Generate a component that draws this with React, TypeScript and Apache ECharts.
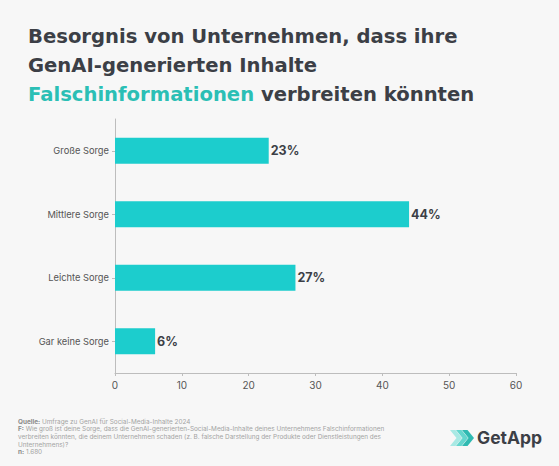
import React, { useEffect, useRef } from "react";
import * as echarts from "echarts";

const categories = ["Große Sorge", "Mittlere Sorge", "Leichte Sorge", "Gar keine Sorge"];
const values = [23, 44, 27, 6];
const xTicks = { min: 0, max: 60, interval: 10 };
const titleLines = [
  "Besorgnis von Unternehmen, dass ihre",
  "GenAI-generierten Inhalte",
];
const titleHighlight = "Falschinformationen";
const titleRest = " verbreiten könnten";
const footerLines = [
  { b: "Quelle:", t: " Umfrage zu GenAI für Social-Media-Inhalte 2024" },
  { b: "F:", t: " Wie groß ist deine Sorge, dass die GenAI-generierten-Social-Media-Inhalte deines Unternehmens Falschinformationen" },
  { b: "", t: "verbreiten könnten, die deinem Unternehmen schaden (z. B. falsche Darstellung der Produkte oder Dienstleistungen des" },
  { b: "", t: "Unternehmens)?" },
  { b: "n:", t: " 1.680" },
];

const FONT = "Inter, 'Noto Sans', sans-serif";
const TFONT = "'DejaVu Sans', sans-serif";
const BG = "#f7f7f7";
const TEAL = "#1ccdcd";
const DARK = "#3c3f46";

export default function App() {
  const ref = useRef<HTMLDivElement>(null);
  useEffect(() => {
    document.body.style.margin = "0";
    document.body.style.background = BG;
    const chart = echarts.init(ref.current!, null, { renderer: "svg" });

    const chevron = (x: number, y: number, color: string) => ({
      type: "polygon",
      shape: {
        points: [
          [x, y],
          [x + 5.5, y],
          [x + 12, y + 8],
          [x + 5.5, y + 16],
          [x, y + 16],
          [x + 6.5, y + 8],
        ],
      },
      style: { fill: color },
    });

    const footer = footerLines.map((l, i) => ({
      type: "text",
      left: 18,
      top: 418.5 + i * 7.7,
      style: {
        text: (l.b ? `{b|${l.b}}` : "") + `{n|${l.t}}`,
        rich: {
          b: { fontFamily: FONT, fontSize: 6.4, fontWeight: 700, fill: "#8a8a8a" },
          n: { fontFamily: FONT, fontSize: 6.4, fill: "#a3a3a3" },
        },
      },
    }));

    chart.setOption({
      animation: false,
      backgroundColor: BG,
      title: {
        left: 23,
        top: 17,
        text: `${titleLines[0]}\n${titleLines[1]}\n{h|${titleHighlight}}${titleRest}`,
        textStyle: {
          fontFamily: TFONT,
          fontSize: 19.6,
          fontWeight: 700,
          color: DARK,
          lineHeight: 29,
          rich: {
            h: { fontFamily: TFONT, fontSize: 19.6, fontWeight: 700, color: "#2bbfb5", lineHeight: 29 },
          },
        },
      },
      grid: { left: 115, right: 43, top: 119, bottom: 93 },
      xAxis: {
        type: "value",
        min: xTicks.min,
        max: xTicks.max,
        interval: xTicks.interval,
        splitLine: { show: false },
        axisLine: { show: true, lineStyle: { color: "#bdbdbd" } },
        axisTick: { show: true, length: 3, lineStyle: { color: "#bdbdbd" } },
        axisLabel: { fontFamily: FONT, fontSize: 10, color: "#555", margin: 7 },
      },
      yAxis: {
        type: "category",
        inverse: true,
        data: categories,
        axisLine: { show: true, lineStyle: { color: "#bdbdbd" } },
        axisTick: { show: true, alignWithLabel: true, length: 3, lineStyle: { color: "#bdbdbd" } },
        axisLabel: { fontFamily: FONT, fontSize: 9.3, color: "#555", margin: 6 },
      },
      series: [
        {
          type: "bar",
          data: values,
          barWidth: 26,
          itemStyle: { color: TEAL },
          label: {
            show: true,
            position: "right",
            distance: 2,
            formatter: "{c}%",
            fontFamily: FONT,
            fontSize: 12.5,
            fontWeight: 700,
            color: DARK,
          },
        },
      ],
      graphic: [
        ...footer,
        chevron(450, 430, "#a8e9e4"),
        chevron(456, 430, "#64d6ce"),
        chevron(462, 430, "#2fbab2"),
        {
          type: "text",
          left: 477,
          top: 428,
          style: { text: "GetApp", fontFamily: FONT, fontSize: 17.5, fontWeight: 700, fill: DARK },
        },
      ],
    });
    return () => chart.dispose();
  }, []);
  return <div ref={ref} style={{ width: 559, height: 466 }} />;
}
